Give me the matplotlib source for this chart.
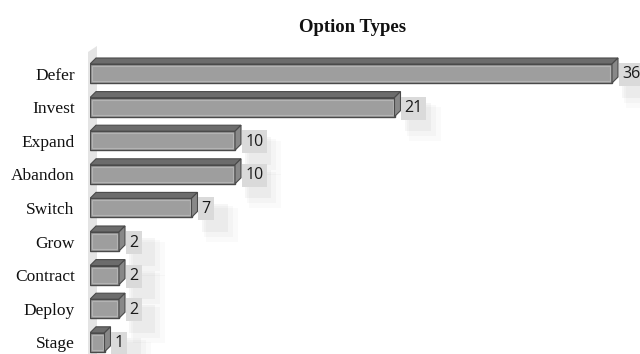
import matplotlib
matplotlib.use("Agg")
import matplotlib.pyplot as plt
from matplotlib.patches import Polygon, Rectangle

categories = ["Defer", "Invest", "Expand", "Abandon", "Switch", "Grow", "Contract", "Deploy", "Stage"]
values = [36, 21, 10, 10, 7, 2, 2, 2, 1]
title = "Option Types"

W, H = 640, 354
fig = plt.figure(figsize=(W / 100, H / 100), dpi=100)
ax = fig.add_axes([90 / W, 0, 550 / W, 1])

px_per_x = 14.5
px_per_row = 33.6
xmax = 550 / px_per_x
y_top = -73 / px_per_row
y_bot = (H - 73) / px_per_row
ax.set_xlim(0, xmax)
ax.set_ylim(y_bot, y_top)

ys = list(range(len(categories)))
h = 19 / px_per_row
dx = 6 / px_per_x
dy = 6 / px_per_row
yc_off = 0.5 / px_per_row

# back wall
wall = Polygon([(-2 / px_per_x, y_bot), (-2 / px_per_x, (52 - 73) / px_per_row),
                (7 / px_per_x, (46 - 73) / px_per_row), (7 / px_per_x, y_bot)],
               closed=True, facecolor="#e4e4e4", edgecolor="none", clip_on=False, zorder=0)
ax.add_patch(wall)

bars = ax.barh([y + yc_off for y in ys], values, height=h, left=0, color="#9e9e9e",
               edgecolor="#4a4a4a", linewidth=1.0, zorder=3)

for y, v in zip(ys, values):
    yc = y + yc_off
    t = yc - h / 2
    b = yc + h / 2
    # inner highlight
    ax.add_patch(Rectangle((2 / px_per_x, t + 2 / px_per_row), v - 4 / px_per_x, h - 4 / px_per_row,
                           facecolor="none", edgecolor="#b4b4b4", linewidth=0.8, zorder=3.5))
    top = Polygon([(0, t), (v, t), (v + dx, t - dy), (dx, t - dy)], closed=True,
                  facecolor="#6c6c6c", edgecolor="#4a4a4a", linewidth=0.8, zorder=4)
    side = Polygon([(v, t), (v + dx, t - dy), (v + dx, b - dy), (v, b)], closed=True,
                   facecolor="#888888", edgecolor="#4a4a4a", linewidth=0.8, zorder=4)
    ax.add_patch(top)
    ax.add_patch(side)
    # faint label shadow
    for k, a in enumerate([0.035, 0.025, 0.02]):
        ax.add_patch(Rectangle((v + dx + (4 + 2 * k) / px_per_x, yc - 4 / px_per_row + k * 2 / px_per_row),
                               (26 + 3 * k) / px_per_x, (28 + 3 * k) / px_per_row,
                               facecolor="#000000", alpha=a, edgecolor="none", zorder=1))
    ax.annotate(str(v), xy=(v + dx, yc + 1 / px_per_row), xytext=(3, 0), textcoords="offset points",
                ha="left", va="center", fontsize=11.5, family="Open Sans", color="#1a1a1a",
                bbox=dict(boxstyle="square,pad=0.22", facecolor="#dadada", edgecolor="none"),
                zorder=5, annotation_clip=False)

ax.set_yticks([y + yc_off for y in ys])
ax.set_yticklabels(categories, family="Liberation Serif", fontsize=12.5, color="#111111")
ax.tick_params(axis="y", length=0, pad=11)
ax.set_xticks([])
for s in ax.spines.values():
    s.set_visible(False)

fig.text(353 / W, 1 - 27.5 / H, title, ha="center", va="center", family="Liberation Serif",
         fontsize=13.5, fontweight="bold", color="#111111")

fig.savefig("out.png", dpi=100)
